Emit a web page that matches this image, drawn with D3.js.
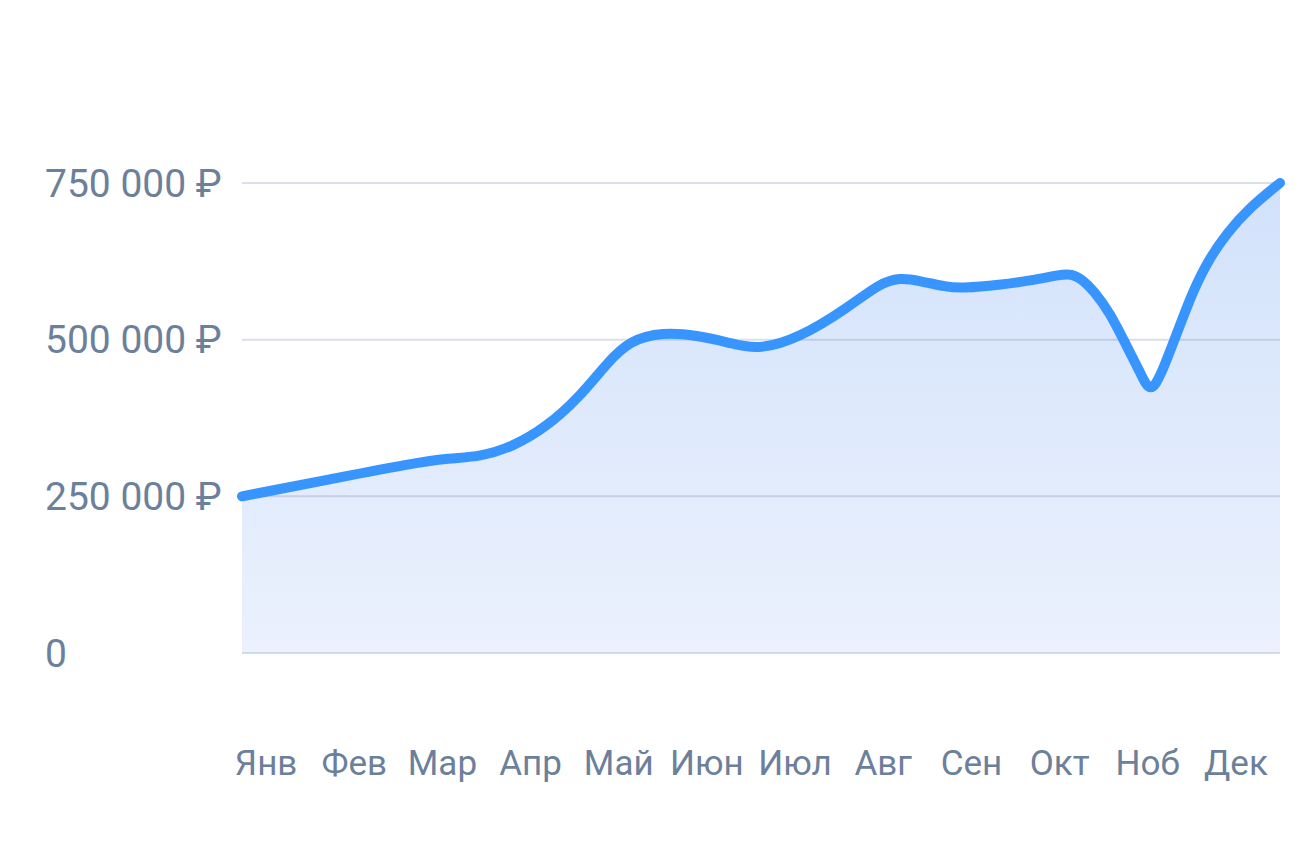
<!DOCTYPE html>
<html>
<head>
<meta charset="utf-8">
<script src="https://cdn.jsdelivr.net/npm/d3@7"></script>
<style>
  html, body { margin: 0; padding: 0; background: #fff; }
  svg { display: block; }
  text { font-family: Roboto, "Noto Sans", sans-serif; }
</style>
</head>
<body>
<svg id="chart" width="1312" height="852"></svg>
<script>
// ---- data ----
const months = ['Янв', 'Фев', 'Мар', 'Апр', 'Май', 'Июн', 'Июл', 'Авг', 'Сен', 'Окт', 'Ноб', 'Дек'];
const yTickValues = [0, 250000, 500000, 750000];
// position of each data point along the year (0 = start, 11 = end)
const pointPos = [0, 0.93, 1.78, 2.20, 2.52, 2.87, 3.23, 3.58, 3.87, 4.11, 4.46, 4.82, 5.17, 5.46, 5.91, 6.41, 6.76, 6.97, 7.18,
                  7.47, 7.61, 8.03, 8.38, 8.65, 8.79, 8.92, 9.02, 9.20, 9.38, 9.52, 9.58, 9.63, 9.68, 9.76, 9.91, 10.08, 10.26, 10.44, 10.65, 11];
const revenue  = [250000, 277000, 302000, 311000, 313000, 329000, 361000, 409000, 463000, 499000, 512000, 507000, 495000, 483000, 503000, 550000, 590000, 599000, 594000,
                  584000, 582000, 587000, 595000, 603000, 606000, 594000, 579000, 543000, 488000, 447000, 428000, 422000, 428000, 452000, 511000, 579000, 632000, 670000, 707000, 750000];

// ---- layout ----
const svg = d3.select('#chart');
const plotLeft = 242, plotRight = 1280, plotTop = 183, plotBottom = 653;
const textColor = '#6c7f9b';

const x = d3.scaleLinear().domain([0, 11]).range([plotLeft, plotRight]);
const y = d3.scaleLinear().domain([0, 750000]).range([plotBottom, plotTop]);
const xBand = d3.scaleBand().domain(months).range([222, plotRight]);

const pts = pointPos.map((p, i) => ({ p, v: revenue[i] }));
const curve = d3.curveBasis;

// gradient
const defs = svg.append('defs');
const grad = defs.append('linearGradient')
  .attr('id', 'areaGrad').attr('gradientUnits', 'userSpaceOnUse')
  .attr('x1', 0).attr('x2', 0).attr('y1', plotTop).attr('y2', plotBottom);
grad.append('stop').attr('offset', '0%').attr('stop-color', '#d2e2fb');
grad.append('stop').attr('offset', '100%').attr('stop-color', '#ebf1fd');

// area
const area = d3.area()
  .x(d => x(d.p)).y0(y(0)).y1(d => y(d.v))
  .curve(curve);
svg.append('path').datum(pts).attr('d', area).attr('fill', 'url(#areaGrad)');

// gridlines
svg.append('g').selectAll('line').data(yTickValues).join('line')
  .attr('x1', plotLeft).attr('x2', plotRight)
  .attr('y1', d => y(d)).attr('y2', d => y(d))
  .attr('stroke', 'rgba(120,138,172,0.27)').attr('stroke-width', 2);

// y labels
const fmt = v => v === 0 ? '0' : d3.format(',')(v).replace(/,/g, '\u00a0') + '\u00a0₽';
svg.append('g').selectAll('text').data(yTickValues).join('text')
  .attr('x', 45).attr('y', d => y(d))
  .attr('dy', '0.35em')
  .attr('fill', textColor).attr('font-size', 39)
  .text(fmt);

// line
const line = d3.line()
  .x(d => x(d.p)).y(d => y(d.v))
  .curve(curve);
svg.append('path').datum(pts).attr('d', line)
  .attr('fill', 'none').attr('stroke', '#3995fe')
  .attr('stroke-width', 10).attr('stroke-linecap', 'round').attr('stroke-linejoin', 'round');

// x axis labels
const xAxis = d3.axisBottom(xBand).tickSize(0).tickPadding(0);
const gx = svg.append('g').attr('transform', 'translate(0,775)').call(xAxis);
gx.select('.domain').remove();
gx.selectAll('text')
  .attr('fill', textColor).attr('font-size', 35)
  .attr('font-family', 'Roboto, "Noto Sans", sans-serif')
  .attr('dy', 0);
</script>
</body>
</html>
